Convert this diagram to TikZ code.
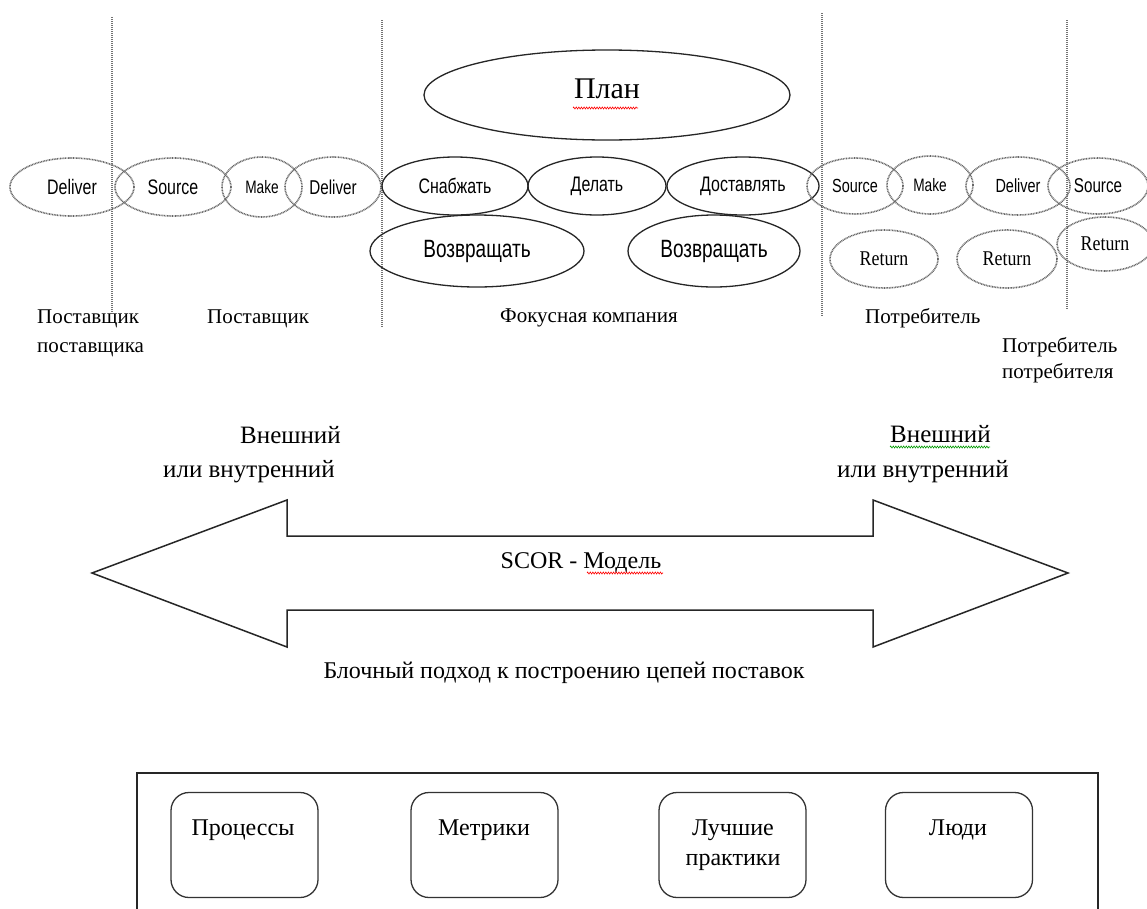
\documentclass[tikz,border=0pt]{standalone}
\usepackage{fontspec}
\setmainfont{Liberation Serif}
\newfontfamily\sansn{Liberation Sans}[FakeStretch=0.76]
\newfontfamily\serifn{Liberation Serif}[FakeStretch=0.85]
\usetikzlibrary{shapes.geometric,decorations.pathmorphing}
\begin{document}
\begin{tikzpicture}[x=1pt,y=-1pt,
  dotell/.style={ellipse, draw=black!60, line width=1.6pt, dash pattern=on 0.9pt off 0.7pt, inner sep=0pt},
  solell/.style={ellipse, draw=black!85, line width=1.3pt, inner sep=0pt},
  vline/.style={draw=black!55, line width=1.2pt, dash pattern=on 1pt off 1pt},
  sf/.style={font=\sansn\fontsize{#1}{#1}\selectfont},
  rf/.style={font=\serifn\fontsize{#1}{#1}\selectfont},
  tf/.style={font=\fontsize{#1}{#1}\selectfont, inner sep=0pt},
  arrowline/.style={draw=black!85, line width=1.5pt, line join=miter},
  framebox/.style={draw=black!85, line width=1.3pt},
  rbox/.style={draw=black!80, line width=1.3pt, rounded corners=18pt, minimum width=147pt, minimum height=105pt, inner sep=0pt},
  squig/.style={decorate, decoration={zigzag, segment length=2.6pt, amplitude=1pt}, line width=0.6pt}
]
\useasboundingbox (0,0) rectangle (1147,908);
\fill[white] (0,0) rectangle (1147,908);

% dividers
\draw[vline] (112,17) -- (112,315);
\draw[vline] (382,20) -- (382,328);
\draw[vline] (822,13) -- (822,317);
\draw[vline] (1067,20) -- (1067,310);

% plan
\node[solell, minimum width=366pt, minimum height=90pt, font=\fontsize{30}{30}\selectfont, text depth=12pt] (plan) at (607,95) {План};
\draw[squig, red] (573,108) -- (638,108);

% supplier side
\node[dotell, minimum width=124pt, minimum height=58pt, sf=21] (d1) at (72,187) {Deliver};
\node[dotell, minimum width=116pt, minimum height=58pt, sf=21] (s1) at (173,187) {Source};
\node[dotell, minimum width=80pt, minimum height=60pt, sf=18] (m1) at (262,187) {Make};
\node[dotell, minimum width=96pt, minimum height=60pt, sf=20] (d2) at (333,187) {Deliver};

% focal company
\node[solell, minimum width=146pt, minimum height=58pt, sf=21] (sn) at (455,186) {Снабжать};
\node[solell, minimum width=138pt, minimum height=58pt, sf=21] (de) at (597,186) {Делать};
\node[solell, minimum width=152pt, minimum height=58pt, sf=21] (do) at (743,186) {Доставлять};
\node[solell, minimum width=214pt, minimum height=72pt, sf=25] (v1) at (477,251) {Возвращать};
\node[solell, minimum width=172pt, minimum height=72pt, sf=25] (v2) at (714,251) {Возвращать};

% customer side
\node[dotell, minimum width=96pt, minimum height=56pt, sf=19] (s2) at (855,186) {Source};
\node[dotell, minimum width=86pt, minimum height=58pt, sf=18] (m2) at (930,185) {Make};
\node[dotell, minimum width=104pt, minimum height=58pt, sf=19] (d3) at (1018,186) {Deliver};
\node[dotell, minimum width=100pt, minimum height=56pt, sf=20] (s3) at (1098,186) {Source};
\node[dotell, minimum width=108pt, minimum height=58pt, rf=21] (r1) at (884,259) {Return};
\node[dotell, minimum width=100pt, minimum height=58pt, rf=21] (r2) at (1007,259) {Return};
\node[dotell, minimum width=96pt, minimum height=54pt, rf=21] (r3) at (1105,244) {Return};

% region labels
\node[tf=21, anchor=base west, align=left, font=\fontsize{21}{29}\selectfont] (lss) at (37,352) {Поставщик\\поставщика};
\node[tf=21, anchor=base west] (ls) at (207,323) {Поставщик};
\node[tf=21, anchor=base west] (lf) at (500,322) {Фокусная компания};
\node[tf=21, anchor=base west] (lc) at (865,323) {Потребитель};
\node[tf=21, anchor=base west, align=left, font=\fontsize{21}{26}\selectfont] (lcc) at (1002,378) {Потребитель\\потребителя};

% external / internal
\node[tf=25, anchor=base west] (el1) at (240,443) {Внешний};
\node[tf=25, anchor=base west] (el2) at (163,477) {или внутренний};
\node[tf=25, anchor=base west] (er1) at (890,442) {Внешний};
\node[tf=25, anchor=base west] (er2) at (837,477) {или внутренний};
\draw[squig, green!60!black] (890,447) -- (990,447);

% double arrow
\draw[arrowline] (92,573) -- (287,500) -- (287,536) -- (873,536) -- (873,500) -- (1068,573)
  -- (873,647) -- (873,610) -- (287,610) -- (287,647) -- cycle;
\node[tf=24, anchor=base] (scor) at (581,568) {SCOR - Модель};
\draw[squig, red] (587,573) -- (663,573);
\node[tf=24, anchor=base] (block) at (564,678) {Блочный подход к построению цепей поставок};

% bottom frame
\draw[framebox] (137,915) -- (137,773) -- (1098,773) -- (1098,915);
\node[rbox] (b1) at (244.5,845) {};
\node[rbox] (b2) at (484.5,845) {};
\node[rbox] (b3) at (732.5,845) {};
\node[rbox] (b4) at (959,845) {};
\node[tf=24, anchor=base] (t1) at (243,835) {Процессы};
\node[tf=24, anchor=base] (t2) at (484,835) {Метрики};
\node[tf=24, anchor=base, align=center, font=\fontsize{24}{30}\selectfont] (t3) at (733,865) {Лучшие\\практики};
\node[tf=24, anchor=base] (t4) at (958,835) {Люди};
\end{tikzpicture}
\end{document}
